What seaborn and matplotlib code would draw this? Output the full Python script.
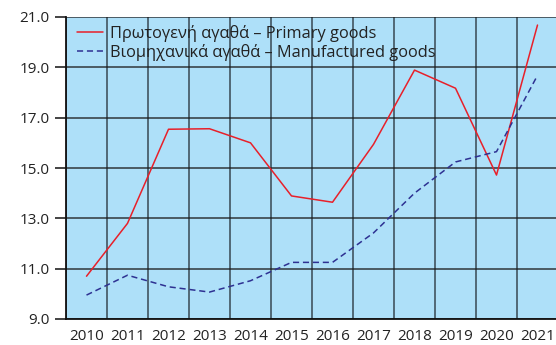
import matplotlib
matplotlib.use("Agg")
import matplotlib.pyplot as plt
from matplotlib.ticker import FixedLocator
import seaborn as sns
import pandas as pd

years = [2010, 2011, 2012, 2013, 2014, 2015, 2016, 2017, 2018, 2019, 2020, 2021]
primary = [10.7, 12.8, 16.54, 16.56, 16.0, 13.89, 13.64, 15.94, 18.89, 18.17, 14.72, 20.68]
manufactured = [9.95, 10.74, 10.28, 10.07, 10.52, 11.25, 11.25, 12.42, 14.0, 15.24, 15.65, 18.68]
series_labels = ["Πρωτογενή αγαθά – Primary goods",
                 "Βιομηχανικά αγαθά – Manufactured goods"]
y_ticks = [9.0, 11.0, 13.0, 15.0, 17.0, 19.0, 21.0]

sns.set_theme(style="white")
plt.rcParams["font.family"] = ["Open Sans", "DejaVu Sans"]

df = pd.DataFrame({
    "year": years * 2,
    "value": primary + manufactured,
    "series": [series_labels[0]] * len(years) + [series_labels[1]] * len(years),
})

fig = plt.figure(figsize=(5.56, 3.45), dpi=100)
ax = fig.add_axes([66 / 556, 26 / 345, 492 / 556, 302 / 345])
ax.set_facecolor("#aee0f9")

sns.lineplot(data=df, x="year", y="value", hue="series", style="series",
             palette=["#e8202a", "#2e3192"], dashes=[(None, None), (4, 2.5)],
             linewidth=1.1, ax=ax, legend=True)

ax.set_xlim(2009.5, 2021.5)
ax.set_ylim(9, 21)
ax.xaxis.set_major_locator(FixedLocator(years))
ax.xaxis.set_minor_locator(FixedLocator([y - 0.5 for y in years] + [2021.5]))
ax.set_yticks(y_ticks)
ax.set_yticklabels([f"{v:.1f}" for v in y_ticks])
ax.set_xticklabels([str(y) for y in years])

ax.grid(False)
ax.grid(which="minor", axis="x", color="#3a4a55", linewidth=1.4, alpha=0.8)
ax.grid(which="major", axis="y", color="#1a1a1a", linewidth=1.1, alpha=0.85)

ax.tick_params(axis="y", which="major", left=True, length=8, width=1.2,
               color="#222222", labelsize=11, pad=4, labelcolor="#222222")
ax.tick_params(axis="x", which="both", bottom=False, labelsize=11,
               pad=1, labelcolor="#222222")

for side in ["top", "right"]:
    ax.spines[side].set_visible(False)
for side in ["left", "bottom"]:
    ax.spines[side].set_color("#111111")
    ax.spines[side].set_linewidth(1.3)

ax.set_xlabel("")
ax.set_ylabel("")

leg = ax.legend(loc="upper left", bbox_to_anchor=(0.005, 1.0), frameon=False,
                fontsize=11.8, handlelength=1.6, handletextpad=0.45,
                borderaxespad=0.3, labelspacing=0.1, borderpad=0.2)
for t in leg.get_texts():
    t.set_color("#222222")

fig.savefig("out.png", dpi=100)
